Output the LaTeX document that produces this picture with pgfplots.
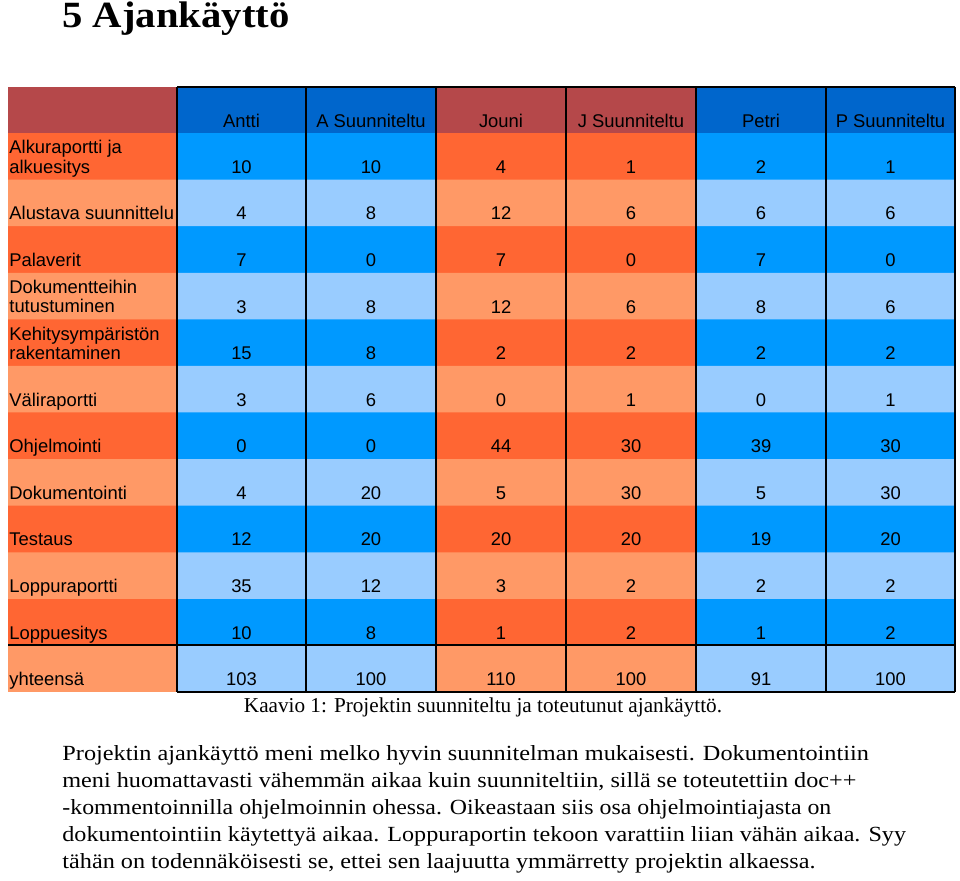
\documentclass[border=0pt]{standalone}
\usepackage{fontspec}
\setmainfont{Liberation Serif}
\newfontfamily\arial{Liberation Sans}
\usepackage{pgfplots}
\usepackage{pgfplotstable}
\pgfplotsset{compat=1.18}
\definecolor{hdrred}{HTML}{B5484A}
\definecolor{hdrblue}{HTML}{0066CC}
\definecolor{orD}{HTML}{FF6633}
\definecolor{orL}{HTML}{FF9966}
\definecolor{blM}{HTML}{0099FF}
\definecolor{blL}{HTML}{99CCFF}
\newcommand\tabfont{\arial\fontsize{9.2}{10}\selectfont}
\newcommand\kpl[2][1.125]{\scalebox{#1}[1]{#2}}

% tunnit: toteutunut ja suunniteltu
\pgfplotstableread{
A AS J JS P PS
10 10 4 1 2 1
4 8 12 6 6 6
7 0 7 0 7 0
3 8 12 6 8 6
15 8 2 2 2 2
3 6 0 1 0 1
0 0 44 30 39 30
4 20 5 30 5 30
12 20 20 20 19 20
35 12 3 2 2 2
10 8 1 2 1 2
103 100 110 100 91 100
}\ajat

\begin{document}
\begin{tikzpicture}
\begin{axis}[width=480pt,height=440.5pt,scale only axis,
  xmin=0,xmax=960,ymin=0,ymax=881,y dir=reverse,
  hide axis,clip=false,unbounded coords=jump,
  /pgf/number format/assume math mode=true,
  vals/.style={draw=none,mark=none,point meta=explicit,nodes near coords,
    every node near coord/.append style={anchor=base,font=\tabfont,text=black,inner sep=0pt}}]
  % tausta
  \addplot[fill=white,draw=none] coordinates {(0,0) (960,0) (960,881) (0,881)} -- cycle;
  % oranssit rivit
  \addplot[fill=orD,draw=none] coordinates {(8,133) (955,133) (955,692) (8,692)} -- cycle;
  \addplot[fill=orL,draw=none] table[row sep=\\] {x y\\
    8 179.6\\ 955 179.6\\ 955 226.2\\ 8 226.2\\ nan nan\\
    8 272.8\\ 955 272.8\\ 955 319.3\\ 8 319.3\\ nan nan\\
    8 365.9\\ 955 365.9\\ 955 412.5\\ 8 412.5\\ nan nan\\
    8 459.1\\ 955 459.1\\ 955 505.7\\ 8 505.7\\ nan nan\\
    8 552.3\\ 955 552.3\\ 955 598.8\\ 8 598.8\\ nan nan\\
    8 645.4\\ 955 645.4\\ 955 692\\ 8 692\\};
  \addplot[fill=hdrred,draw=none] coordinates {(8,87) (955,87) (955,133) (8,133)} -- cycle;
  % siniset sarakkeet
  \addplot[fill=blM,draw=none] table[row sep=\\] {x y\\
    177 133\\ 436 133\\ 436 692\\ 177 692\\ nan nan\\
    696 133\\ 955 133\\ 955 692\\ 696 692\\};
  \addplot[fill=blL,draw=none] table[row sep=\\] {x y\\
    177 179.6\\ 436 179.6\\ 436 226.2\\ 177 226.2\\ nan nan\\
    177 272.8\\ 436 272.8\\ 436 319.3\\ 177 319.3\\ nan nan\\
    177 365.9\\ 436 365.9\\ 436 412.5\\ 177 412.5\\ nan nan\\
    177 459.1\\ 436 459.1\\ 436 505.7\\ 177 505.7\\ nan nan\\
    177 552.3\\ 436 552.3\\ 436 598.8\\ 177 598.8\\ nan nan\\
    177 645.4\\ 436 645.4\\ 436 692\\ 177 692\\ nan nan\\
    696 179.6\\ 955 179.6\\ 955 226.2\\ 696 226.2\\ nan nan\\
    696 272.8\\ 955 272.8\\ 955 319.3\\ 696 319.3\\ nan nan\\
    696 365.9\\ 955 365.9\\ 955 412.5\\ 696 412.5\\ nan nan\\
    696 459.1\\ 955 459.1\\ 955 505.7\\ 696 505.7\\ nan nan\\
    696 552.3\\ 955 552.3\\ 955 598.8\\ 696 598.8\\ nan nan\\
    696 645.4\\ 955 645.4\\ 955 692\\ 696 692\\};
  \addplot[fill=hdrblue,draw=none] table[row sep=\\] {x y\\
    177 87\\ 436 87\\ 436 133\\ 177 133\\ nan nan\\
    696 87\\ 955 87\\ 955 133\\ 696 133\\};
  % reunaviivat
  \addplot[black,line width=1pt] table[row sep=\\] {x y\\
    177 87\\ 955 87\\ nan nan\\
    8 645.4\\ 955 645.4\\ nan nan\\
    177 692\\ 955 692\\ nan nan\\
    177 87\\ 177 692\\ nan nan\\
    306 87\\ 306 692\\ nan nan\\
    436 87\\ 436 692\\ nan nan\\
    566 87\\ 566 692\\ nan nan\\
    696 87\\ 696 692\\ nan nan\\
    826 87\\ 826 692\\ nan nan\\
    955 87\\ 955 692\\};
  % arvot
  \addplot[vals] table[x expr=241.5,y expr={173.3+46.58*\coordindex},meta=A] {\ajat};
  \addplot[vals] table[x expr=371,y expr={173.3+46.58*\coordindex},meta=AS] {\ajat};
  \addplot[vals] table[x expr=501,y expr={173.3+46.58*\coordindex},meta=J] {\ajat};
  \addplot[vals] table[x expr=631,y expr={173.3+46.58*\coordindex},meta=JS] {\ajat};
  \addplot[vals] table[x expr=761,y expr={173.3+46.58*\coordindex},meta=P] {\ajat};
  \addplot[vals] table[x expr=890.5,y expr={173.3+46.58*\coordindex},meta=PS] {\ajat};
  % otsikot
  \begin{scope}[every node/.style={anchor=base,font=\tabfont,inner sep=0pt}]
    \node at (axis cs:241.5,127.3) {Antti};
    \node at (axis cs:371,127.3) {A Suunniteltu};
    \node at (axis cs:501,127.3) {Jouni};
    \node at (axis cs:631,127.3) {J Suunniteltu};
    \node at (axis cs:761,127.3) {Petri};
    \node at (axis cs:890.5,127.3) {P Suunniteltu};
  \end{scope}
  \begin{scope}[every node/.style={anchor=base west,font=\tabfont,inner sep=0pt}]
    \node at (axis cs:9,153.8) {Alkuraportti ja};
    \node at (axis cs:9,173.3) {alkuesitys};
    \node at (axis cs:9,219.9) {Alustava suunnittelu};
    \node at (axis cs:9,266.5) {Palaverit};
    \node at (axis cs:9,293.5) {Dokumentteihin};
    \node at (axis cs:9,313.0) {tutustuminen};
    \node at (axis cs:9,340.1) {Kehitysympäristön};
    \node at (axis cs:9,359.6) {rakentaminen};
    \node at (axis cs:9,406.2) {Väliraportti};
    \node at (axis cs:9,452.8) {Ohjelmointi};
    \node at (axis cs:9,499.4) {Dokumentointi};
    \node at (axis cs:9,545.9) {Testaus};
    \node at (axis cs:9,592.5) {Loppuraportti};
    \node at (axis cs:9,639.1) {Loppuesitys};
    \node at (axis cs:9,685.7) {yhteensä};
  \end{scope}
  % teksti
  \node[anchor=base west,inner sep=0pt,font=\bfseries\fontsize{18.5}{20}\selectfont] at (axis cs:62,28) {\scalebox{1.1}[1]{5 Ajankäyttö}};
  \node[anchor=base,inner sep=0pt,font=\fontsize{10.6}{12}\selectfont] at (axis cs:483,713) {Kaavio 1: Projektin suunniteltu ja toteutunut ajankäyttö.};
  \begin{scope}[every node/.style={anchor=base west,inner sep=0pt,font=\fontsize{10.8}{12}\selectfont}]
    \node at (axis cs:62,761) {\kpl{Projektin ajankäyttö meni melko hyvin suunnitelman mukaisesti. Dokumentointiin}};
    \node at (axis cs:62,788) {\kpl[1.121]{meni huomattavasti vähemmän aikaa kuin suunniteltiin, sillä se toteutettiin doc++}};
    \node at (axis cs:62,815) {\kpl[1.104]{-kommentoinnilla ohjelmoinnin ohessa. Oikeastaan siis osa ohjelmointiajasta on}};
    \node at (axis cs:62,842) {\kpl[1.117]{dokumentointiin käytettyä aikaa. Loppuraportin tekoon varattiin liian vähän aikaa. Syy}};
    \node at (axis cs:62,869) {\kpl[1.122]{tähän on todennäköisesti se, ettei sen laajuutta ymmärretty projektin alkaessa.}};
  \end{scope}
\end{axis}
\end{tikzpicture}
\end{document}
